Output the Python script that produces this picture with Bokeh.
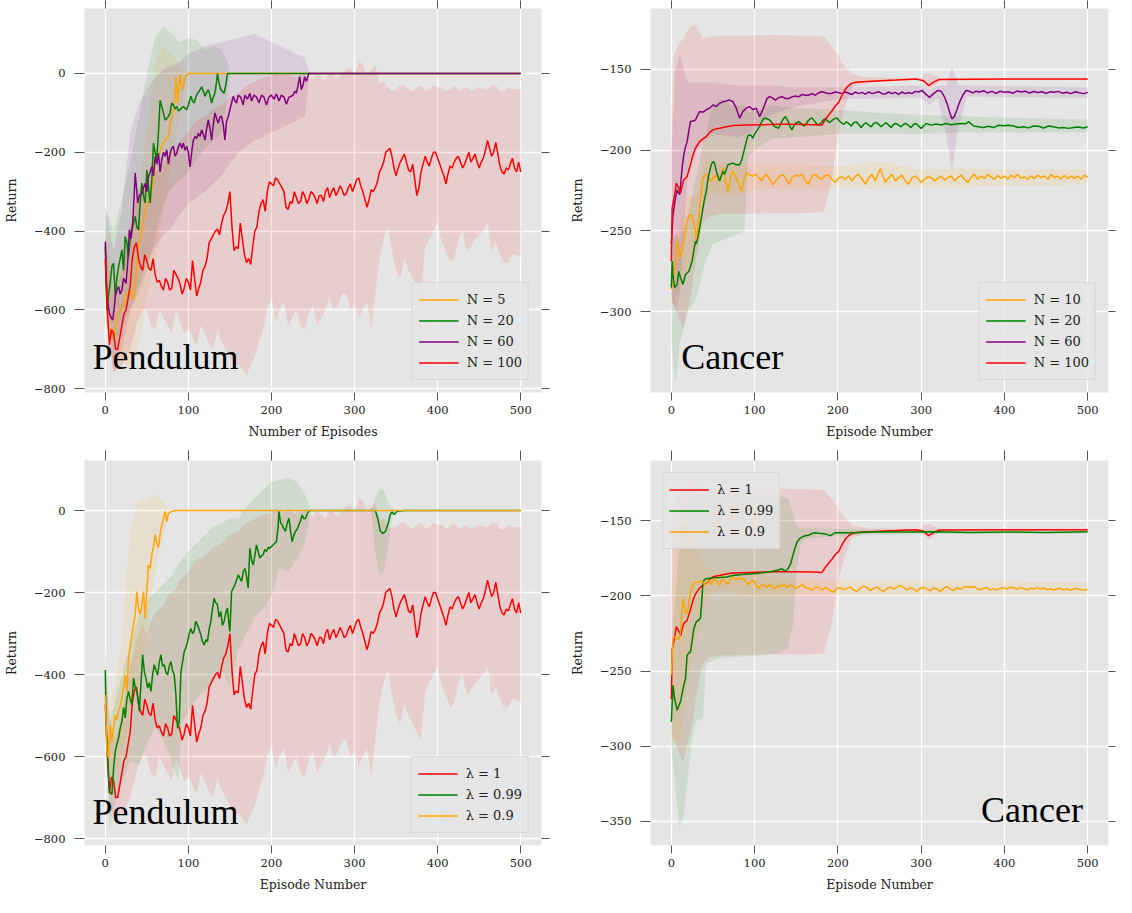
from bokeh.plotting import figure
from bokeh.models import (Range1d, FixedTicker, LinearAxis, Legend, LegendItem,
                          Label, CustomJSTickFormatter)
from bokeh.layouts import column, row
from bokeh.embed import file_html
from bokeh.resources import INLINE

# ---------------------------------------------------------------- data
X_TICKS = [0, 100, 200, 300, 400, 500]
PEND_Y_TICKS = [-800, -600, -400, -200, 0]
CANC_TOP_Y_TICKS = [-300, -250, -200, -150]
CANC_BOT_Y_TICKS = [-350, -300, -250, -200, -150]

# --- Pendulum, N = 100  (identical run to lambda = 1)
P_RED_EP = list(range(0, 501, 5))
P_RED = [-473, -690, -660, -700, -640, -600, -540, -440, -470, -500,
         -475, -500, -510, -525, -550, -530, -545, -510, -535, -545,
         -530, -475, -565, -530, -490, -430, -410, -395, -380, -350,
         -300, -450, -445, -420, -480, -485, -400, -350, -320, -300,
         -280, -265, -280, -300, -345, -330, -315, -325, -310, -320,
         -305, -330, -310, -300, -315, -290, -300, -295, -305, -280,
         -285, -265, -300, -340, -295, -290, -250, -225, -195, -210,
         -260, -225, -205, -245, -230, -310, -250, -210, -235, -200,
         -215, -245, -280, -235, -225, -210, -240, -215, -225, -205,
         -240, -215, -170, -210, -175, -235, -255, -245, -215, -250,
         -250]
# readings between the above samples (episodes 2.5, 7.5, ... 497.5)
P_RED_MID_EP = [e + 2.5 for e in range(0, 500, 5)]
P_RED_MID = [-600, -650, -700, -670, -610, -570, -470, -430, -490, -460,
             -495, -470, -530, -540, -520, -550, -500, -520, -560, -520,
             -550, -520, -545, -500, -470, -420, -400, -410, -360, -330,
             -390, -440, -380, -460, -470, -440, -390, -330, -350, -275,
             -285, -270, -290, -340, -325, -300, -330, -300, -330, -300,
             -315, -310, -325, -290, -300, -310, -285, -310, -290, -300,
             -270, -285, -320, -320, -300, -275, -240, -200, -190, -240,
             -240, -215, -225, -250, -270, -290, -230, -225, -215, -200,
             -230, -260, -255, -240, -215, -225, -230, -200, -215, -225,
             -225, -195, -190, -200, -205, -250, -240, -230, -240, -225]
P_RED_BAND_EP = list(range(0, 501, 10))
P_RED_UP = [-400, -560, -500, -380, -300, -300, -250, -230, -200, -170,
            -150, -120, -110, -90, -80, -60, -50, -30, -20, -10,
            -5, 0, 5, -10, 0, -15, -10, 5, -15, 10,
            -5, 25, 10, -25, -35, -40, -30, -45, -30, -40,
            -35, -45, -30, -40, -45, -35, -40, -30, -45, -40,
            -40]
P_RED_LO = [-560, -760, -740, -700, -620, -600, -650, -620, -660, -630,
            -650, -690, -660, -700, -680, -720, -740, -765, -720, -650,
            -570, -600, -640, -600, -650, -590, -620, -570, -590, -560,
            -590, -600, -650, -470, -390, -500, -470, -520, -560, -420,
            -380, -450, -470, -400, -440, -410, -380, -430, -480, -460,
            -470]
P_RED_BAND_MID_EP = list(range(5, 500, 10))
P_RED_UP_MID = [-500, -540, -430, -340, -280, -270, -240, -210, -190, -160,
                -130, -115, -100, -85, -70, -55, -40, -25, -15, -10,
                5, -5, -5, 0, -10, 0, -20, -5, 0, 15,
                30, -5, 20, -20, -45, -30, -40, -35, -45, -30,
                -35, -40, -45, -35, -40, -40, -30, -45, -35, -40]
P_RED_LO_MID = [-700, -750, -720, -660, -600, -640, -600, -640, -600, -660,
                -670, -640, -690, -650, -700, -740, -750, -740, -680, -600,
                -630, -580, -620, -640, -610, -640, -600, -600, -560, -600,
                -620, -580, -560, -420, -450, -520, -500, -540, -440, -400,
                -430, -480, -420, -450, -420, -400, -450, -460, -480, -460]

# --- Pendulum, N = 5
P_N5_EP = [0, 3, 6, 10, 14, 18, 22, 26, 30, 34, 37, 40, 44, 48, 52, 56, 60,
           64, 68, 72, 76, 80, 83, 85, 87, 90, 93, 96, 100, 500]
P_N5 = [-470, -640, -650, -676, -617, -600, -585, -560, -550, -575, -507,
        -440, -397, -350, -321, -300, -228, -210, -185, -170, -160, -110,
        -84, -8, -75, -3, -41, -10, 0, 0]
P_N5_BAND_EP = [0, 10, 20, 30, 40, 50, 60, 70, 80, 90, 100, 500]
P_N5_UP = [-400, -520, -470, -400, -300, -150, 30, 70, 50, 20, 0, 0]
P_N5_LO = [-560, -760, -740, -740, -700, -560, -480, -360, -230, -100, 0, 0]

# --- Pendulum, N = 20
P_N20_EP = [0, 2, 4, 6, 8, 10, 12, 14, 16, 18, 20, 22, 24, 26, 28, 30, 32,
            34, 36, 38, 40, 42, 44, 46, 48, 50, 52, 54, 56, 58, 60, 62, 64,
            66, 68, 70, 72, 74, 76, 78, 80, 82, 84, 86, 88, 90, 92, 94, 96,
            98, 100, 103, 105, 107, 109, 111, 113, 116, 118, 120, 122, 124,
            126, 128, 130, 132, 134, 135, 137, 139, 141, 143, 145, 147, 500]
P_N20 = [-440, -600, -560, -530, -490, -482, -566, -520, -490, -470, -448,
         -500, -414, -430, -465, -420, -397, -380, -363, -390, -397, -330,
         -278, -310, -329, -245, -290, -329, -270, -177, -200, -219, -150,
         -68, -84, -100, -118, -115, -109, -100, -75, -80, -90, -84, -95,
         -92, -88, -84, -88, -92, -80, -58, -70, -75, -60, -50, -45, -34,
         -45, -58, -48, -41, -55, -75, -60, -50, -20, 0, -25, -41, -45,
         -50, -30, 0, 0]
P_N20_BAND_EP = [0, 10, 20, 30, 40, 50, 60, 70, 80, 90, 100, 110, 120, 130,
                 140, 147, 150, 500]
P_N20_UP = [-340, -400, -320, -220, -120, 0, 90, 120, 100, 80, 90, 85, 60,
            70, 60, 30, 0, 0]
P_N20_LO = [-520, -700, -640, -600, -560, -500, -420, -330, -290, -270, -250,
            -220, -190, -170, -150, -60, 0, 0]

# --- Pendulum, N = 60
P_N60_EP = [0, 2, 5, 7, 9, 11, 12, 14, 16, 18, 20, 22, 25, 27, 29, 31, 33,
            35, 36, 38, 39, 41, 44, 46, 48, 50, 52, 54, 56, 58, 60, 62, 64,
            66, 68, 70, 72, 74, 76, 78, 80, 82, 84, 86, 88, 90, 92, 94, 96,
            98, 100, 102, 104, 106, 108, 110, 112, 114, 116, 118, 120, 122,
            124, 126, 128, 130, 132, 134, 136, 138, 140, 142, 144, 146, 148,
            150, 152, 154, 156, 158, 160, 163, 166, 168, 171, 174, 176, 179,
            182, 185, 188, 191, 194, 197, 200, 203, 206, 209, 212, 215, 218,
            221, 224, 226, 228, 230, 232, 234, 236, 238, 240, 242, 245, 500]
P_N60 = [-427, -566, -609, -620, -626, -590, -566, -550, -541, -560, -550,
         -520, -533, -480, -397, -420, -380, -300, -253, -300, -329, -310,
         -304, -290, -279, -300, -262, -250, -237, -260, -211, -230, -203,
         -250, -219, -200, -210, -194, -230, -203, -190, -185, -210, -203,
         -185, -177, -190, -177, -195, -185, -200, -237, -200, -170, -160,
         -165, -152, -160, -143, -155, -169, -140, -118, -140, -169, -130,
         -100, -115, -126, -110, -109, -130, -169, -120, -110, -92, -75,
         -58, -70, -75, -55, -60, -80, -55, -65, -50, -70, -55, -60, -75,
         -55, -60, -80, -60, -55, -65, -52, -70, -55, -60, -78, -60, -58,
         -55, -45, -50, -30, -8, -41, -30, -8, -20, 0, 0]
P_N60_BAND_EP = [0, 10, 20, 30, 40, 50, 60, 70, 80, 90, 100, 120, 140, 160,
                 180, 200, 220, 240, 246, 500]
P_N60_UP = [-340, -450, -340, -150, -80, -40, -10, 10, 20, 30, 50, 70, 80,
            90, 100, 80, 60, 40, 0, 0]
P_N60_LO = [-540, -760, -700, -600, -540, -480, -440, -410, -390, -360, -330,
            -300, -260, -200, -170, -150, -130, -110, 0, 0]

# --- Pendulum, lambda = 0.99
P_L99_EP = [0, 1, 3, 5, 8, 10, 12, 14, 16, 18, 20, 22, 24, 26, 28, 30, 32,
            34, 36, 38, 40, 41, 43, 45, 47, 49, 51, 53, 55, 57, 59, 61, 63,
            65, 67, 69, 71, 73, 75, 77, 79, 81, 83, 85, 87, 89, 91, 93, 95,
            97, 99, 101, 103, 105, 107, 109, 111, 113, 115, 117, 119, 121,
            123, 125, 127, 129, 131, 133, 135, 137, 139, 141, 143, 145, 147,
            149, 150, 152, 154, 156, 158, 160, 162, 164, 166, 168, 170, 172,
            174, 176, 178, 180, 182, 184, 186, 188, 190, 192, 194, 196, 198,
            200, 202, 204, 206, 208, 209, 211, 213, 215, 217, 219, 221, 223,
            225, 227, 229, 231, 233, 235, 237, 239, 241, 243, 245, 247, 325,
            328, 331, 334, 337, 340, 343, 345, 348, 351, 360, 500]
P_L99 = [-389, -523, -604, -685, -693, -628, -588, -570, -555, -530, -515,
         -480, -506, -460, -441, -460, -474, -409, -430, -441, -470, -490,
         -420, -352, -393, -410, -433, -420, -441, -400, -376, -390, -401,
         -370, -352, -380, -376, -395, -401, -380, -368, -390, -401, -450,
         -531, -515, -393, -370, -344, -335, -320, -300, -288, -300, -295,
         -270, -279, -290, -303, -320, -328, -315, -320, -290, -271, -240,
         -214, -225, -230, -260, -246, -280, -271, -250, -238, -280, -295,
         -198, -190, -181, -170, -157, -165, -173, -150, -141, -160, -189,
         -92, -120, -133, -110, -84, -100, -116, -110, -108, -95, -100, -90,
         -92, -88, -84, -80, -76, -40, -2, -30, -35, -45, -51, -30, -19,
         -50, -76, -60, -51, -45, -35, -25, -11, -20, -19, -8, -2, 0, 0,
         -20, -50, -56, -52, -35, -10, -3, -10, -2, 0, 0]
P_L99_BAND_EP = [0, 5, 10, 20, 30, 40, 50, 60, 70, 80, 88, 92, 100, 110, 120,
                 130, 140, 150, 160, 170, 180, 190, 200, 210, 220, 230, 240,
                 248, 320, 325, 330, 335, 340, 345, 350, 500]
P_L99_UP = [-330, -520, -480, -400, -330, -260, -220, -200, -180, -160, -130,
            -120, -100, -80, -60, -40, -30, -20, -20, 10, 30, 50, 70, 75, 80,
            70, 40, 0, 0, 30, 55, 50, 20, 5, 0, 0]
P_L99_LO = [-450, -780, -730, -660, -610, -620, -570, -530, -560, -610, -660,
            -520, -490, -460, -440, -420, -390, -430, -340, -300, -260, -240,
            -210, -140, -150, -120, -80, 0, 0, -100, -160, -150, -90, -20, 0, 0]

# --- Pendulum, lambda = 0.9
P_L90_EP = [0, 2, 4, 6, 8, 10, 12, 14, 16, 18, 20, 22, 24, 26, 28, 30, 32,
            34, 36, 38, 40, 42, 44, 46, 48, 50, 52, 54, 56, 58, 60, 62, 64,
            66, 68, 70, 72, 74, 76, 80, 85, 90, 500]
P_L90 = [-450, -588, -604, -523, -563, -530, -498, -510, -490, -475, -458,
         -430, -401, -441, -360, -330, -303, -280, -254, -198, -238, -254,
         -230, -198, -263, -198, -133, -141, -108, -90, -59, -80, -91, -59,
         -35, -20, -2, -27, -7, -2, 0, 0, 0]
P_L90_BAND_EP = [0, 5, 10, 20, 25, 30, 35, 40, 50, 60, 70, 78, 500]
P_L90_UP = [-340, -480, -440, -320, -170, -60, 0, 20, 30, 40, 20, 0, 0]
P_L90_LO = [-560, -700, -650, -600, -560, -500, -460, -420, -300, -150, -60,
            0, 0]

# --- Cancer, N = 100 (identical run to lambda = 1)
C_RED_EP = [0, 1, 4, 6, 9, 11, 13, 15, 19, 23, 26, 29, 34, 38, 42, 46, 50,
            54, 58, 66, 74, 84, 94, 110, 130, 150, 170, 181, 185, 189, 193,
            197, 201, 205, 209, 213, 217, 222, 230, 240, 252, 270, 294, 303,
            309, 316, 322, 400, 500]
C_RED = [-268.7, -235.8, -227.6, -220.4, -223.5, -226.5, -222, -218.3,
         -216.3, -209, -203, -198.8, -194.7, -193, -191.6, -189, -187.4,
         -186.8, -186.4, -185.5, -184.8, -184.6, -184.4, -184.2, -184, -184,
         -184.2, -184.4, -181, -178.2, -175.6, -172.5, -170.4, -166, -162.2,
         -160, -158.5, -158, -157.6, -157.3, -157, -156.6, -156, -157, -160,
         -157.6, -156.2, -156, -156]
C_RED_BAND_EP = [0, 3, 8, 14, 21, 25, 29, 38, 46, 59, 80, 123, 150, 183, 192,
                 200, 205, 209, 217, 230, 252, 300, 303, 309, 316, 325, 500]
C_RED_UP = [-175, -141.5, -135, -131, -125, -123, -122, -131, -130, -129,
            -129, -128.7, -129, -129.6, -135, -141, -145.7, -148, -152.9,
            -154.5, -155, -155.5, -153, -152, -154, -155.5, -155.5]
C_RED_LO = [-295, -295, -302.5, -310.7, -296, -285, -269, -244.7, -241,
            -239.5, -239.5, -239, -239, -238.5, -220, -193, -180, -172.5,
            -161, -159, -157.5, -156.5, -159, -163, -160, -156.7, -156.5]

# --- Cancer, N = 60
C_N60_EP = [0, 2, 5, 7, 10, 13, 15, 17, 19, 21, 23, 26, 29, 32, 34, 38, 42,
            46, 50, 54, 58, 62, 66, 70, 74, 78, 82, 86, 90, 94, 98, 102, 106,
            109, 112, 115, 118, 121, 125, 129, 133, 137, 141, 145, 149, 153,
            157, 161, 165, 169, 173, 177, 181, 185, 189, 193, 197, 201, 205,
            209, 213, 217, 221, 225, 229, 233, 237, 241, 245, 249, 253, 257,
            261, 265, 269, 273, 277, 281, 285, 289, 293, 297, 301, 305, 310,
            315, 320, 324, 328, 331, 334, 337, 340, 343, 346, 350, 354, 358,
            362, 366, 370, 375, 380, 385, 390, 395, 400, 405, 410, 415, 420,
            425, 430, 435, 440, 445, 450, 455, 460, 465, 470, 475, 480, 485,
            490, 495, 500]
C_N60 = [-258, -240, -229.6, -224.5, -227.6, -211, -202.9, -198, -194.7,
         -188, -182.3, -182, -181.3, -178, -176, -176.5, -175, -174, -172,
         -173, -171, -170, -169.5, -169, -170, -174, -180.2, -176, -174,
         -173, -175, -174, -179.2, -176, -172, -168, -166.9, -167.5, -169,
         -167.5, -166.9, -168, -168, -167, -166.5, -167, -165.5, -166, -166,
         -165, -166, -164.5, -163.8, -164.5, -165, -164.8, -164, -164.5, -165,
         -164, -164.8, -165.5, -164, -165, -164.2, -165.3, -164, -165, -164.5,
         -163.8, -165, -165.2, -164, -165, -164.2, -165.4, -164, -165, -164.3,
         -165, -163.6, -164, -163, -165, -167.3, -165, -163, -163.5, -167,
         -171, -176, -180.7, -179, -175, -170.4, -166, -163, -163.5, -164.5,
         -163.5, -164, -163.2, -164.5, -163.6, -164.8, -163.5, -164.2, -163.8,
         -164.8, -163.4, -164, -163.5, -164.6, -163.7, -164.3, -163.8, -164.8,
         -163.9, -164.2, -163.6, -164.8, -164.1, -165, -163.8, -164.5, -165,
         -164.2]
C_N60_BAND_EP = [0, 5, 10, 15, 20, 30, 50, 80, 100, 120, 150, 200, 300, 310,
                 320, 330, 337, 345, 355, 500]
C_N60_UP = [-200, -150, -140, -150, -158, -158, -158, -160, -160, -160, -161,
            -161, -160, -163, -160, -160, -148, -160, -160, -161]
C_N60_LO = [-290, -300, -290, -250, -215, -200, -190, -192, -188, -178, -173,
            -168.5, -167.5, -172, -168, -190, -213, -185, -167, -167.5]

# --- Cancer, N = 20
C_N20_EP = [0, 1, 2, 4, 7, 9, 11, 14, 17, 19, 21, 23, 25, 27, 29, 30, 32, 34,
            36, 38, 40, 42, 44, 46, 48, 50, 52, 54, 56, 58, 60, 62, 64, 66,
            68, 71, 74, 78, 82, 84, 86, 88, 90, 92, 94, 96, 98, 100, 102, 104,
            106, 108, 110, 112, 115, 118, 121, 124, 127, 129, 131, 134, 137,
            139, 141, 143, 145, 147, 150, 153, 156, 159, 161, 164, 167, 169,
            172, 175, 177, 180, 183, 185, 188, 190, 193, 196, 199, 201, 204,
            207, 210, 213, 216, 219, 222, 225, 228, 231, 234, 237, 240, 243,
            246, 249, 252, 255, 258, 261, 264, 267, 270, 273, 276, 279, 282,
            285, 288, 291, 294, 297, 300, 306, 312, 318, 324, 330, 336, 342,
            348, 354, 357, 363, 369, 375, 381, 387, 393, 399, 405, 411, 417,
            423, 429, 435, 441, 447, 453, 459, 465, 471, 477, 483, 489, 495,
            500]
C_N20 = [-285, -268.7, -278, -285, -283, -275, -279, -283, -277, -276, -275,
         -272, -268.7, -262, -256.4, -258, -254, -248, -242, -235.8, -230,
         -225.5, -218, -213, -209, -207, -208, -213, -216, -219, -216, -213,
         -215, -212, -209, -208.5, -208, -209, -209, -207, -203, -199, -194.7,
         -191, -190.5, -191, -192.6, -190, -188.5, -187, -185.4, -183, -181,
         -180.2, -180.5, -181.3, -183, -185.4, -186, -186.4, -184, -181,
         -179.2, -181, -183, -186, -187.4, -185, -183, -182.3, -183.5, -185,
         -184.5, -182, -180.5, -180, -182, -184, -184.4, -183, -181, -180.5,
         -182, -183, -181.5, -180.5, -180, -181.5, -183, -184, -182.5, -183.5,
         -185, -183, -182.5, -184, -186, -184, -183, -184.5, -185.5, -183.5,
         -182.8, -184, -185.5, -184, -183, -184.5, -186, -184, -183.5, -184.5,
         -185.5, -184, -183.5, -184.8, -186, -184, -183.5, -185, -186.5,
         -183.5, -184.5, -183.8, -184.4, -183.5, -184.2, -183.8, -183.5,
         -183.6, -182.3, -185, -185.5, -186, -185.2, -186, -184.6, -184.9,
         -184.5, -185, -186, -185.5, -186.2, -185, -185.2, -186.3, -185,
         -185.5, -186.2, -186, -186.5, -185.9, -185.6, -186.3, -185.5]
C_N20_BAND_EP = [0, 5, 10, 20, 30, 40, 50, 60, 70, 80, 88, 92, 100, 120, 150,
                 200, 250, 300, 350, 400, 500]
C_N20_UP = [-255, -252, -255, -240, -215, -192, -172, -168, -172, -172, -172,
            -176, -176, -172, -174, -175, -177, -178, -179, -180, -181]
C_N20_LO = [-320, -345, -320, -300, -292, -270, -258, -256, -254, -252, -250,
            -205, -200, -193, -192, -190, -190, -190, -189, -189, -189]

# --- Cancer, N = 10
C_N10_EP = [0, 2, 5, 7, 9, 10, 11, 13, 15, 17, 19, 21, 23, 25, 27, 29, 30, 32,
            34, 36, 38, 40, 42, 44, 46, 48, 50, 52, 55, 58, 60, 62, 65, 68, 70,
            73, 75, 78, 81, 84, 87, 90, 94, 98, 102, 105, 108, 111, 114, 118,
            122, 125, 127, 131, 135, 138, 141, 145, 149, 153, 157, 161, 165,
            169, 173, 177, 181, 185, 189, 193, 197, 201, 205, 209, 213, 217,
            221, 225, 229, 233, 237, 241, 245, 248, 251, 254, 257, 261, 265,
            269, 273, 277, 281, 285, 289, 293, 297, 300, 304, 308, 312, 316,
            320, 324, 328, 332, 336, 340, 344, 348, 352, 356, 360, 364, 368,
            372, 376, 380, 384, 388, 392, 396, 400, 404, 408, 412, 416, 420,
            424, 428, 432, 436, 440, 444, 448, 452, 456, 460, 464, 468, 472,
            476, 480, 484, 488, 492, 496, 500]
C_N10 = [-286, -281, -270.8, -256.4, -262, -264.6, -266.7, -262, -256.4, -250,
         -244, -241, -240, -241, -244, -250, -256.4, -247, -235.8, -225,
         -217.3, -216, -215, -216.3, -218, -219.3, -217, -215.5, -217, -219.3,
         -215, -211, -218, -225.5, -220, -213.2, -214, -217.3, -221, -225.5,
         -219, -214, -215.5, -216, -215, -217, -219, -216.5, -215, -218,
         -221.4, -219, -218, -215.5, -215.5, -218, -221, -217, -215.5, -216,
         -215, -219, -221, -216, -215, -217, -218, -215.5, -215.5, -218, -220,
         -217, -216.5, -218, -216, -219, -216, -215, -218, -221, -217, -215,
         -219, -215, -211.3, -216, -220, -217, -215, -219, -217, -215.5, -219,
         -221, -217, -216, -218, -220, -218, -216.5, -217, -219, -217.5, -216,
         -218.5, -217, -216, -219, -217, -215.5, -218, -220, -217, -215, -218,
         -216, -217.5, -215, -216.5, -218, -215.5, -217.5, -216, -218, -215.5,
         -217, -215, -217.5, -216.5, -218, -216, -217.5, -215.5, -217, -216,
         -218, -215, -217, -216, -218, -215.5, -217.5, -216, -217.5, -216,
         -218, -215.5, -216.8]
C_N10_BAND_EP = [0, 5, 10, 20, 30, 40, 50, 60, 80, 100, 150, 200, 250, 300,
                 350, 400, 450, 500]
C_N10_UP = [-272, -255, -245, -228, -230, -205, -208, -207, -208, -209, -209,
            -210, -207, -212, -211, -212, -212, -212]
C_N10_LO = [-300, -290, -288, -272, -268, -232, -226, -228, -228, -224, -224,
            -224, -224, -223, -223, -222, -222, -221]

# --- Cancer, lambda = 0.99
C_L99_EP = [0, 2, 4, 7, 9, 11, 13, 15, 17, 19, 21, 23, 25, 27, 30, 33, 35, 37,
            38, 40, 42, 46, 50, 58, 66, 74, 82, 92, 102, 112, 122, 127, 133,
            137, 140, 143, 145, 148, 151, 154, 157, 161, 165, 169, 173, 177,
            181, 185, 189, 191, 194, 197, 205, 213, 240, 280, 320, 360, 400,
            450, 500]
C_L99 = [-283.8, -259.4, -268.3, -276, -273, -270.5, -265, -259.4, -255,
         -239.5, -238, -237.3, -230, -221.8, -217.3, -216, -215, -200, -190.8,
         -189, -188.5, -188.5, -188, -187.8, -187.4, -186.5, -185.9, -185.5,
         -185.2, -184.5, -183.7, -183, -182, -183.5, -182, -179, -175.2, -169,
         -164.2, -162, -160.9, -160, -159.7, -158.5, -158, -158.3, -158.5,
         -158.8, -159.6, -160, -159, -158, -158, -158, -157.5, -157.5, -157.3,
         -157.8, -157.5, -157.8, -157.3]
C_L99_BAND_EP = [0, 5, 10, 15, 20, 25, 30, 38, 42, 60, 100, 130, 140, 146,
                 150, 155, 160, 200, 300, 500]
C_L99_UP = [-235, -200, -165, -140, -135, -133, -133, -133, -133, -132, -133,
            -134, -135, -145, -152, -155, -155, -155.5, -156, -156.5]
C_L99_LO = [-300, -330, -355, -345, -320, -295, -283, -281, -245, -241, -240,
            -238, -235, -220, -185, -166, -162, -160, -159, -158.5]

# --- Cancer, lambda = 0.9
C_L90_EP = [0, 2, 5, 7, 9, 11, 14, 17, 19, 21, 23, 25, 27, 30, 33, 36, 38, 40,
            42, 44, 46, 48, 50, 52, 55, 58, 60, 62, 65, 68, 71, 74, 77, 80, 83,
            86, 89, 92, 95, 98, 101, 104, 108, 112, 115, 118, 121, 124, 128,
            131, 135, 139, 142, 145, 149, 153, 157, 161, 165, 169, 173, 177,
            181, 185, 189, 192, 195, 199, 203, 207, 211, 215, 219, 223, 227,
            231, 235, 239, 243, 247, 251, 255, 259, 263, 267, 271, 275, 279,
            283, 287, 291, 295, 299, 303, 307, 311, 315, 319, 323, 327, 331,
            335, 339, 343, 347, 351, 355, 359, 363, 367, 371, 375, 379, 383,
            387, 391, 395, 399, 403, 407, 411, 415, 419, 423, 427, 431, 435,
            439, 443, 447, 451, 455, 459, 463, 467, 471, 475, 479, 483, 487,
            491, 495, 500]
C_L90 = [-252.8, -228.4, -227.3, -228, -229.5, -224, -201.8, -210.7, -211.8,
         -205, -197.4, -194, -191.9, -190.8, -191, -189.6, -191, -193, -191,
         -189.5, -191, -192.5, -190, -188.5, -191, -193, -190, -189, -191,
         -192, -189, -187.4, -189, -188.5, -189, -188, -190, -192.5, -191,
         -189.6, -192, -195.2, -193, -193, -194.5, -192.5, -194, -195.5, -193,
         -194, -192.5, -194.5, -193, -193, -195, -194, -192.5, -194.5, -195,
         -196.3, -194, -194.5, -196, -194.5, -195.5, -197, -197.4, -195,
         -194.5, -196, -195, -194.2, -196, -197, -195, -193.5, -194.5, -196.5,
         -195, -194, -196, -197, -195, -194.2, -195.5, -194, -193, -194.5,
         -196, -194.5, -195.5, -197, -195, -194.5, -195.5, -196.5, -194.8,
         -195.5, -197, -195, -193.8, -195.5, -196.5, -194.5, -195.5, -194.2,
         -193.8, -194.5, -193.8, -195, -196, -195, -194.5, -196, -195.2, -196,
         -195, -194.5, -195.5, -194.2, -194.6, -195.5, -194.5, -195.2, -196,
         -195, -195.5, -194.5, -195.5, -194.8, -196, -195.3, -196.2, -195.5,
         -195, -196, -195.4, -196.3, -195.5, -195, -195.8, -196.2, -195.7]
C_L90_BAND_EP = [0, 5, 10, 20, 30, 40, 50, 60, 100, 150, 200, 300, 400, 500]
C_L90_UP = [-200, -160, -150, -155, -168, -180, -183, -184, -186, -189, -190,
            -190, -190, -191]
C_L90_LO = [-300, -295, -298, -255, -232, -205, -198, -196, -200, -200, -200,
            -200, -200, -200]

# ---------------------------------------------------------------- styling
ORANGE = "#FFA500"
GREEN = "#008000"
PURPLE = "#800080"
RED = "#FF0000"
SERIF = "DejaVu Serif"
TXT = "#222222"
TICK = "#555555"


def merged(xa, ya, xb, yb):
    pairs = sorted(zip(list(xa) + list(xb), list(ya) + list(yb)))
    return [p[0] for p in pairs], [p[1] for p in pairs]


PR_X, PR_Y = merged(P_RED_EP, P_RED, P_RED_MID_EP, P_RED_MID)
PRB_X, PRB_UP = merged(P_RED_BAND_EP, P_RED_UP, P_RED_BAND_MID_EP, P_RED_UP_MID)
_, PRB_LO = merged(P_RED_BAND_EP, P_RED_LO, P_RED_BAND_MID_EP, P_RED_LO_MID)


def minus_fmt():
    return CustomJSTickFormatter(
        code="return tick < 0 ? '\\u2212' + String(-tick) : String(tick);")


def tick_only_axis(ticker, length):
    return LinearAxis(ticker=ticker, major_label_text_font_size="1px",
                      major_label_text_color=None, major_label_text_alpha=0,
                      major_label_standoff=0, axis_line_color=None,
                      major_tick_in=0, major_tick_out=length,
                      major_tick_line_color=TICK, minor_tick_line_color=None)


def make_fig(width, height, yr, yticks, bl, br, bt, bb, xlabel, tick_top, tick_right):
    p = figure(width=width, height=height,
               x_range=Range1d(-25, 525), y_range=Range1d(*yr),
               output_backend="svg", toolbar_location=None,
               min_border_left=bl, min_border_right=br,
               min_border_top=bt, min_border_bottom=bb)
    p.background_fill_color = "#E5E5E5"
    p.border_fill_color = "white"
    p.outline_line_color = None
    xt = FixedTicker(ticks=X_TICKS)
    yt = FixedTicker(ticks=yticks)
    p.xaxis.ticker = xt
    p.yaxis.ticker = yt
    p.xgrid.ticker = xt
    p.ygrid.ticker = yt
    for g in (p.xgrid, p.ygrid):
        g.grid_line_color = "white"
        g.grid_line_width = 1.3
    for ax in (p.xaxis, p.yaxis):
        ax.axis_line_color = None
        ax.major_tick_line_color = TICK
        ax.major_tick_in = 0
        ax.minor_tick_line_color = None
        ax.major_label_text_font = SERIF
        ax.major_label_text_font_size = "11.5px"
        ax.major_label_text_color = TXT
        ax.axis_label_text_font = SERIF
        ax.axis_label_text_font_size = "12.5px"
        ax.axis_label_text_font_style = "normal"
        ax.axis_label_text_color = TXT
        ax.formatter = minus_fmt()
    p.xaxis.major_tick_out = 8
    p.xaxis.major_label_standoff = 5
    p.xaxis.axis_label_standoff = 7
    p.xaxis.axis_label = xlabel
    p.yaxis.major_tick_out = 10
    p.yaxis.major_label_standoff = 9
    p.yaxis.axis_label_standoff = 12
    p.yaxis.axis_label = "Return"
    p.add_layout(tick_only_axis(xt, tick_top), "above")
    p.add_layout(tick_only_axis(yt, tick_right), "right")
    return p


def add_series(p, series):
    for s in series:
        p.varea(x=s[2], y1=s[3], y2=s[4], fill_color=s[5], fill_alpha=0.1)
    items = []
    for s in series:
        r = p.line(s[0], s[1], line_color=s[5], line_width=1.5)
        items.append(LegendItem(label=s[6], renderers=[r]))
    return items


def add_legend(p, items, loc):
    leg = Legend(items=items, location=loc, margin=12, padding=6, spacing=0,
                 glyph_width=40, glyph_height=21, label_height=21,
                 label_standoff=8, label_text_font=SERIF,
                 label_text_font_size="13px", label_text_color=TXT,
                 background_fill_color="#E5E5E5", background_fill_alpha=0.85,
                 border_line_color="#CCCCCC", border_line_width=1)
    p.add_layout(leg)


def add_title(p, x, y, text):
    p.add_layout(Label(x=x, y=y, text=text, text_font="Liberation Serif",
                       text_font_size="36px", text_color="black",
                       text_baseline="alphabetic", text_align="left"))


# ---------------------------------------------------------------- panels
p1 = make_fig(566, 446, (-810, 165), PEND_Y_TICKS, 78, 25, 8, 54,
              "Number of Episodes", 8, 8)
it = add_series(p1, [
    (P_N5_EP, P_N5, P_N5_BAND_EP, P_N5_LO, P_N5_UP, ORANGE, "N = 5"),
    (P_N20_EP, P_N20, P_N20_BAND_EP, P_N20_LO, P_N20_UP, GREEN, "N = 20"),
    (P_N60_EP, P_N60, P_N60_BAND_EP, P_N60_LO, P_N60_UP, PURPLE, "N = 60"),
    (PR_X, PR_Y, PRB_X, PRB_LO, PRB_UP, RED, "N = 100"),
])
add_legend(p1, it, "bottom_right")
add_title(p1, -15.4, -721, "Pendulum")

p2 = make_fig(550, 446, (-350, -112.3), CANC_TOP_Y_TICKS, 81, 8, 8, 54,
              "Episode Number", 8, 7)
it = add_series(p2, [
    (C_N10_EP, C_N10, C_N10_BAND_EP, C_N10_LO, C_N10_UP, ORANGE, "N = 10"),
    (C_N20_EP, C_N20, C_N20_BAND_EP, C_N20_LO, C_N20_UP, GREEN, "N = 20"),
    (C_N60_EP, C_N60, C_N60_BAND_EP, C_N60_LO, C_N60_UP, PURPLE, "N = 60"),
    (C_RED_EP, C_RED, C_RED_BAND_EP, C_RED_LO, C_RED_UP, RED, "N = 100"),
])
add_legend(p2, it, "bottom_right")
add_title(p2, 12, -328, "Cancer")

p3 = make_fig(566, 451, (-817, 122), PEND_Y_TICKS, 78, 25, 14, 52,
              "Episode Number", 10, 8)
it = add_series(p3, [
    (PR_X, PR_Y, PRB_X, PRB_LO, PRB_UP, RED, "λ = 1"),
    (P_L99_EP, P_L99, P_L99_BAND_EP, P_L99_LO, P_L99_UP, GREEN, "λ = 0.99"),
    (P_L90_EP, P_L90, P_L90_BAND_EP, P_L90_LO, P_L90_UP, ORANGE, "λ = 0.9"),
])
add_legend(p3, it, "bottom_right")
add_title(p3, -15.4, -736, "Pendulum")

p4 = make_fig(550, 451, (-366, -110), CANC_BOT_Y_TICKS, 81, 8, 14, 52,
              "Episode Number", 10, 7)
it = add_series(p4, [
    (C_RED_EP, C_RED, C_RED_BAND_EP, C_RED_LO, C_RED_UP, RED, "λ = 1"),
    (C_L99_EP, C_L99, C_L99_BAND_EP, C_L99_LO, C_L99_UP, GREEN, "λ = 0.99"),
    (C_L90_EP, C_L90, C_L90_BAND_EP, C_L90_LO, C_L90_UP, ORANGE, "λ = 0.9"),
])
add_legend(p4, it, "top_left")
add_title(p4, 372, -342.7, "Cancer")

layout = column(row(p1, p2), row(p3, p4))
open("out.html", "w").write(file_html(layout, INLINE))
